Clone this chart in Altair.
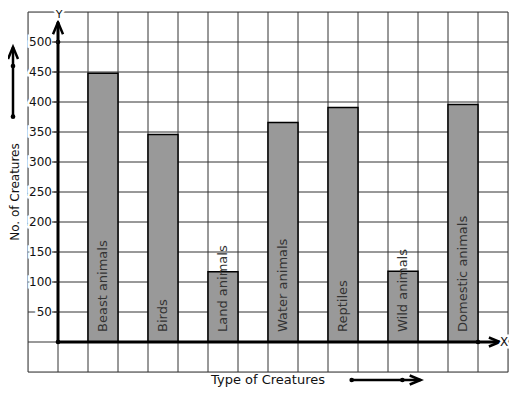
import altair as alt
import pandas as pd

# ---- data -------------------------------------------------------------
categories = ["Beast animals", "Birds", "Land animals", "Water animals",
              "Reptiles", "Wild animals", "Domestic animals"]
values = [448, 346, 117, 366, 391, 118, 396]
bar_left = [1, 3, 5, 7, 9, 11, 13]
bar_right = [2, 4, 6, 8, 10, 12, 14]

y_ticks = [50, 100, 150, 200, 250, 300, 350, 400, 450, 500]
grid_x = list(range(-1, 16))
grid_y = list(range(-50, 551, 50))
x_domain = [-1, 15]
y_domain = [-50, 550]

# axis arrows (data units)
axis_y_top = 533
axis_x_end = 14.73
dots_x = [0, 0, 14]
dots_y = [0, 500, 0]

# decorative direction arrows next to titles (data units)
y_arrow_x = -1.5
y_title_x = -1.42
y_arrow_y = [375.5, 460, 491.7]        # bottom dot, middle dot, tip
y_title_y = 250
x_title_x = 7.0
x_arrow_y = -63.3
x_arrow_x = [9.79, 11.48, 12.09]       # left dot, middle dot, tip

FONT = "DejaVu Sans"

xs = alt.Scale(domain=x_domain, nice=False, zero=False)
ys = alt.Scale(domain=y_domain, nice=False, zero=False)


def X(f):
    return alt.X(f, type="quantitative", scale=xs, axis=None)


def Y(f):
    return alt.Y(f, type="quantitative", scale=ys, axis=None)


bars = pd.DataFrame({
    "category": categories,
    "x0": bar_left,
    "x1": bar_right,
    "xc": [(a + b) / 2 for a, b in zip(bar_left, bar_right)],
    "value": values,
    "base": [0] * len(values),
})

# grid (graph paper)
gv = pd.DataFrame({"gx": grid_x, "lo": [y_domain[0]] * len(grid_x), "hi": [y_domain[1]] * len(grid_x)})
gh = pd.DataFrame({"gy": grid_y, "lo": [x_domain[0]] * len(grid_y), "hi": [x_domain[1]] * len(grid_y)})
grid_v = alt.Chart(gv).mark_rule(color="#333333", strokeWidth=1).encode(
    x=X("gx"), y=Y("lo"), y2="hi")
grid_h = alt.Chart(gh).mark_rule(color="#333333", strokeWidth=1).encode(
    y=Y("gy"), x=X("lo"), x2="hi")

bar_layer = alt.Chart(bars).mark_rect(fill="#999999", stroke="#000000", strokeWidth=1.5).encode(
    x=X("x0"), x2="x1", y=Y("value"), y2="base")

bar_text = alt.Chart(bars).mark_text(angle=270, align="left", baseline="middle", dx=10,
                                     fontSize=13, font=FONT, color="#333333").encode(
    x=X("xc"), y=Y("base"), text="category")

# axis lines
ax_df = pd.DataFrame({"x0": [0, 0], "x1": [0, axis_x_end], "y0": [0, 0], "y1": [axis_y_top, 0]})
axis_lines = alt.Chart(ax_df).mark_rule(color="#000000", strokeWidth=3).encode(
    x=X("x0"), x2="x1", y=Y("y0"), y2="y1")

up_shape = "M-1,2.4L0,0L1,2.4"
right_shape = "M-2.2,-0.9L0,0L-2.2,0.9"

up_df = pd.DataFrame({"x": [0, y_arrow_x], "y": [axis_y_top, y_arrow_y[2]]})
up_heads = alt.Chart(up_df).mark_point(shape=up_shape, size=100, filled=False, stroke="#000000",
                                       strokeWidth=2.5, opacity=1).encode(x=X("x"), y=Y("y"))
right_df = pd.DataFrame({"x": [axis_x_end, x_arrow_x[2]], "y": [0, x_arrow_y]})
right_heads = alt.Chart(right_df).mark_point(shape=right_shape, size=100, filled=False,
                                             stroke="#000000", strokeWidth=2.5, opacity=1).encode(
    x=X("x"), y=Y("y"))

dec_df = pd.DataFrame({"x0": [y_arrow_x, x_arrow_x[0]], "x1": [y_arrow_x, x_arrow_x[2]],
                       "y0": [y_arrow_y[0], x_arrow_y], "y1": [y_arrow_y[2], x_arrow_y]})
dec_lines = alt.Chart(dec_df).mark_rule(color="#000000", strokeWidth=2.5).encode(
    x=X("x0"), x2="x1", y=Y("y0"), y2="y1")

dot_df = pd.DataFrame({
    "x": dots_x + [y_arrow_x, y_arrow_x, x_arrow_x[0], x_arrow_x[1]],
    "y": dots_y + [y_arrow_y[0], y_arrow_y[1], x_arrow_y, x_arrow_y],
})
dots = alt.Chart(dot_df).mark_circle(size=22, color="#000000", opacity=1).encode(x=X("x"), y=Y("y"))

# tick labels and dashes
tick_df = pd.DataFrame({"yt": y_ticks, "xa": [0] * len(y_ticks), "lab": [str(v) for v in y_ticks]})
tick_halo = alt.Chart(tick_df).mark_text(align="right", baseline="middle", dx=-6, fontSize=12,
                                         font=FONT, color="white", stroke="white",
                                         strokeWidth=5).encode(x=X("xa"), y=Y("yt"), text="lab")
tick_text = alt.Chart(tick_df).mark_text(align="right", baseline="middle", dx=-6, fontSize=12,
                                         font=FONT, color="#111111").encode(
    x=X("xa"), y=Y("yt"), text="lab")
tick_dash = alt.Chart(tick_df).mark_rule(color="#222222", strokeWidth=1, xOffset=-6).encode(
    x=X("xa"), x2="xa", y=Y("yt"))

# axis letters
yl = pd.DataFrame({"x": [0], "y": [y_domain[1]], "t": ["Y"]})
xl = pd.DataFrame({"x": [x_domain[1]], "y": [0], "t": ["X"]})
letters = []
for d, dx, dy, fs in [(yl, 1, 2.5, 11), (xl, -4, 0, 12)]:
    for halo in (True, False):
        kw = dict(color="white", stroke="white", strokeWidth=5) if halo else dict(color="#111111")
        letters.append(alt.Chart(d).mark_text(align="center", baseline="middle", dx=dx, dy=dy,
                                              fontSize=fs, font=FONT, **kw).encode(
            x=X("x"), y=Y("y"), text="t"))

# titles
ytitle_df = pd.DataFrame({"x": [y_title_x], "y": [y_title_y], "t": ["No. of Creatures"]})
xtitle_df = pd.DataFrame({"x": [x_title_x], "y": [x_arrow_y], "t": ["Type of Creatures"]})
ytitle = alt.Chart(ytitle_df).mark_text(angle=270, align="center", baseline="middle", fontSize=12,
                                        font=FONT, color="#111111").encode(
    x=X("x"), y=Y("y"), text="t")
xtitle = alt.Chart(xtitle_df).mark_text(align="center", baseline="middle", fontSize=13,
                                        font=FONT, color="#111111").encode(
    x=X("x"), y=Y("y"), text="t")

chart = alt.layer(
    grid_v, grid_h, bar_layer, bar_text, axis_lines, up_heads, right_heads, dec_lines, dots,
    tick_halo, tick_text, tick_dash, *letters, ytitle, xtitle,
).properties(
    width=480, height=360,
    autosize=alt.AutoSizeParams(type="none"),
    padding={"left": 20, "top": 4, "right": 1, "bottom": 15},
).configure_view(stroke=None).configure(background="white")

chart.save("out.html", embed_options={"renderer": "svg", "actions": False})
